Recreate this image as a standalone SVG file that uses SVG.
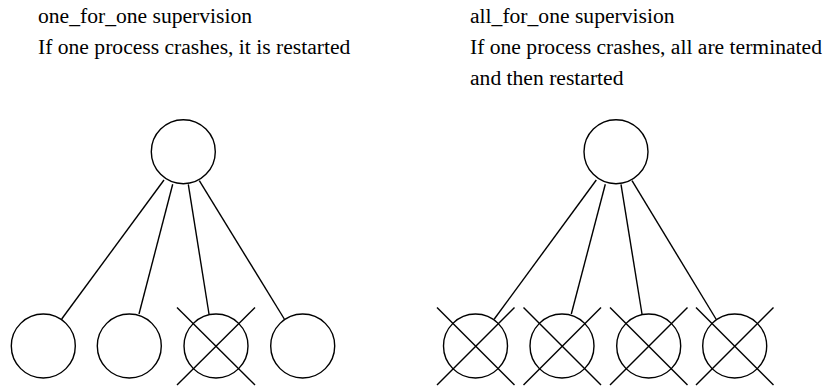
<svg xmlns="http://www.w3.org/2000/svg" width="824" height="388" viewBox="0 0 824 388">
<style>
.t{font-family:'Liberation Serif','Times New Roman',serif;font-size:21.6px;fill:#000}
.n{fill:#fff;stroke:#000;stroke-width:1.4}
.x,.c line{stroke:#000;stroke-width:1.4}
</style>
<rect width="824" height="388" fill="#fff"/>
<g id="labels">
<text class="t" x="38" y="22.7">one_for_one supervision</text>
<text class="t" x="38" y="53.7">If one process crashes, it is restarted</text>
<text class="t" x="470" y="22.7">all_for_one supervision</text>
<text class="t" x="470" y="53.7">If one process crashes, all are terminated</text>
<text class="t" x="470" y="85.3">and then restarted</text>
</g>
<g id="connectors" class="c">
<line x1="164" y1="180" x2="61.7" y2="319"/>
<line x1="172.7" y1="184.3" x2="139" y2="314"/>
<line x1="188.3" y1="184.3" x2="209" y2="314"/>
<line x1="199.3" y1="180.7" x2="284.3" y2="319"/>
<line x1="596.3" y1="180" x2="494.3" y2="319"/>
<line x1="605.3" y1="184.3" x2="571.3" y2="314"/>
<line x1="621" y1="184.3" x2="642" y2="314"/>
<line x1="632" y1="180.7" x2="716" y2="319"/>
</g>
<g id="sup1"><circle class="n" cx="183.3" cy="151.7" r="32"/></g>
<g id="w1a"><circle class="n" cx="43.3" cy="346" r="32"/></g>
<g id="w1b"><circle class="n" cx="129.3" cy="346" r="32"/></g>
<g id="w1c"><circle class="n" cx="216" cy="346" r="32"/><line class="x" x1="177" y1="307.5" x2="255" y2="385"/><line class="x" x1="255" y1="307.5" x2="177" y2="385"/></g>
<g id="w1d"><circle class="n" cx="302.7" cy="346" r="32"/></g>
<g id="sup2"><circle class="n" cx="616" cy="151.7" r="32"/></g>
<g id="w2a"><circle class="n" cx="475.5" cy="346" r="32"/><line class="x" x1="437" y1="307.5" x2="514.5" y2="385"/><line class="x" x1="514.5" y1="307.5" x2="437" y2="385"/></g>
<g id="w2b"><circle class="n" cx="562" cy="346" r="32"/><line class="x" x1="523.5" y1="307.5" x2="601" y2="385"/><line class="x" x1="601" y1="307.5" x2="523.5" y2="385"/></g>
<g id="w2c"><circle class="n" cx="648.7" cy="346" r="32"/><line class="x" x1="610" y1="307.5" x2="687.5" y2="385"/><line class="x" x1="687.5" y1="307.5" x2="610" y2="385"/></g>
<g id="w2d"><circle class="n" cx="734.7" cy="346" r="32"/><line class="x" x1="696" y1="307.5" x2="773.5" y2="385"/><line class="x" x1="773.5" y1="307.5" x2="696" y2="385"/></g>
</svg>
